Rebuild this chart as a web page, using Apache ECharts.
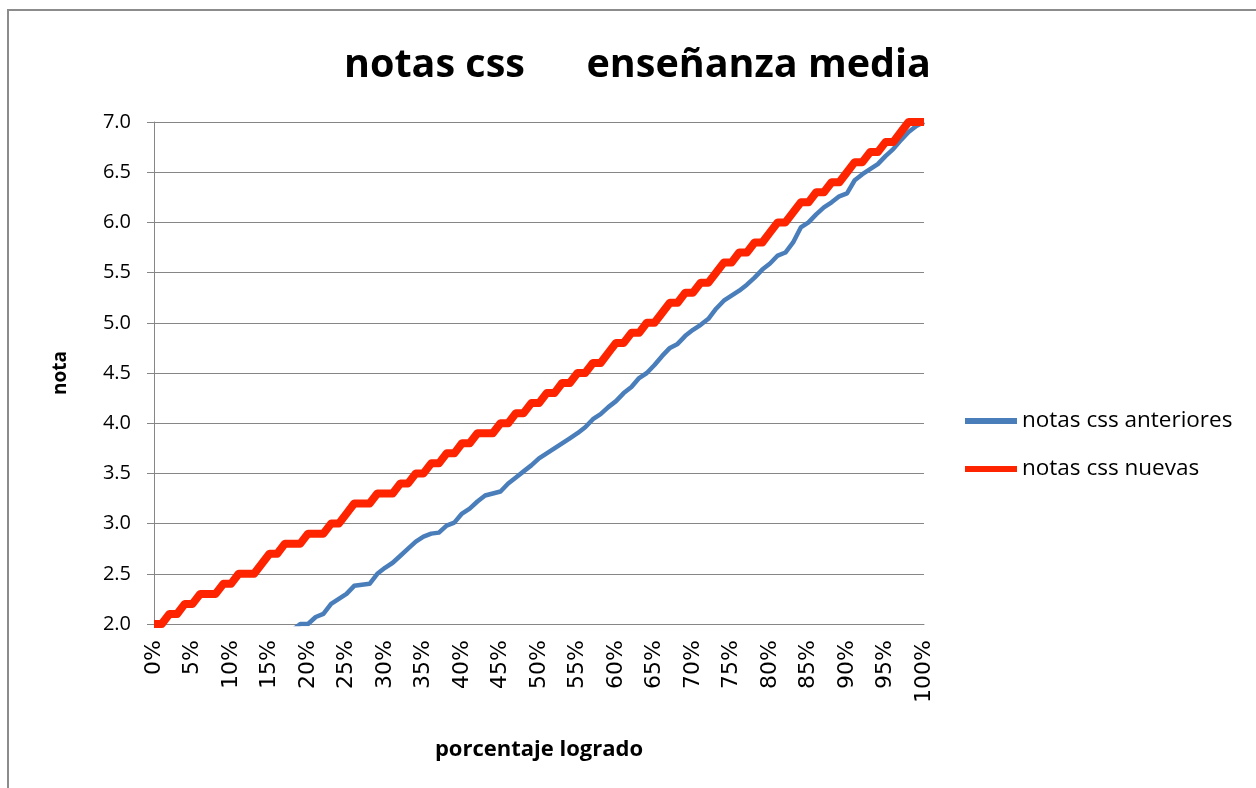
<!DOCTYPE html>
<html>
<head>
<meta charset="utf-8">
<script src="https://cdn.jsdelivr.net/npm/echarts@6/dist/echarts.min.js"></script>
<style>
html,body{margin:0;padding:0;background:#fff;}
#chart{width:1256px;height:788px;}
</style>
</head>
<body>
<div id="chart"></div>
<script>
const titleText = 'notas css      enseñanza media';
const yAxisName = 'nota';
const xAxisName = 'porcentaje logrado';
const seriesNames = ['notas css anteriores', 'notas css nuevas'];

// categories 0% .. 100% in 1% steps
const categories = Array.from({length: 101}, (_, i) => i + '%');

const notasAnteriores = [
  null,null,null,null,null,null,null,null,null,null,
  null,null,null,null,null,null,null,null,
  1.94,2.0,2.0,2.07,2.1,2.2,2.25,2.3,2.38,2.39,
  2.4,2.5,2.56,2.61,2.68,2.75,2.82,2.87,2.9,2.91,
  2.98,3.01,3.1,3.15,3.22,3.28,3.3,3.32,3.4,3.46,
  3.52,3.58,3.65,3.7,3.75,3.8,3.85,3.9,3.96,4.04,
  4.09,4.16,4.22,4.3,4.36,4.45,4.5,4.58,4.67,4.75,
  4.79,4.87,4.93,4.98,5.04,5.14,5.22,5.27,5.32,5.38,
  5.45,5.53,5.59,5.67,5.7,5.8,5.95,6.0,6.08,6.15,
  6.2,6.26,6.29,6.42,6.48,6.53,6.58,6.66,6.73,6.82,
  6.9,6.96,7.0
];

const notasNuevas = [
  2.0,2.0,2.1,2.1,2.2,2.2,2.3,2.3,2.3,2.4,
  2.4,2.5,2.5,2.5,2.6,2.7,2.7,2.8,2.8,2.8,
  2.9,2.9,2.9,3.0,3.0,3.1,3.2,3.2,3.2,3.3,
  3.3,3.3,3.4,3.4,3.5,3.5,3.6,3.6,3.7,3.7,
  3.8,3.8,3.9,3.9,3.9,4.0,4.0,4.1,4.1,4.2,
  4.2,4.3,4.3,4.4,4.4,4.5,4.5,4.6,4.6,4.7,
  4.8,4.8,4.9,4.9,5.0,5.0,5.1,5.2,5.2,5.3,
  5.3,5.4,5.4,5.5,5.6,5.6,5.7,5.7,5.8,5.8,
  5.9,6.0,6.0,6.1,6.2,6.2,6.3,6.3,6.4,6.4,
  6.5,6.6,6.6,6.7,6.7,6.8,6.8,6.9,7.0,7.0,
  7.0
];

const yMin = 2.0, yMax = 7.0, yStep = 0.5;

const chart = echarts.init(document.getElementById('chart'), null, {renderer: 'canvas'});
const FONT = 'Open Sans';
chart.setOption({
  animation: false,
  backgroundColor: '#ffffff',
  graphic: [{
    type: 'rect',
    shape: {x: 8, y: 10, width: 1280, height: 800},
    style: {fill: 'none', stroke: '#8c8c8c', lineWidth: 2},
    silent: true
  }],
  title: {
    text: titleText,
    left: 339,
    top: 41,
    textStyle: {fontFamily: FONT, fontSize: 39.5, fontWeight: 'bold', color: '#000'}
  },
  legend: {
    orient: 'vertical',
    left: 960,
    top: 404,
    itemWidth: 52,
    itemHeight: 6,
    itemGap: 24,
    icon: 'rect',
    textStyle: {fontFamily: FONT, fontSize: 22.5, color: '#000', lineHeight: 24},
    data: [
      {name: seriesNames[0], itemStyle: {color: '#4a7ebb'}},
      {name: seriesNames[1], itemStyle: {color: '#ff2400'}}
    ]
  },
  grid: {left: 154, right: 332, top: 122, bottom: 164, containLabel: false},
  xAxis: {
    type: 'category',
    data: categories,
    boundaryGap: false,
    name: xAxisName,
    nameLocation: 'middle',
    nameGap: 115,
    nameTextStyle: {fontFamily: FONT, fontSize: 22, fontWeight: 'bold', color: '#000'},
    axisLine: {lineStyle: {color: '#868686', width: 1}},
    axisTick: {show: false},
    axisLabel: {
      interval: 4,
      rotate: 90,
      margin: 16,
      fontFamily: 'DejaVu Sans',
      fontSize: 22,
      color: '#000'
    },
    splitLine: {show: false}
  },
  yAxis: {
    type: 'value',
    min: yMin,
    max: yMax,
    interval: yStep,
    name: yAxisName,
    nameLocation: 'middle',
    nameRotate: 90,
    nameGap: 84,
    nameTextStyle: {fontFamily: FONT, fontSize: 19, fontWeight: 'bold', color: '#000'},
    axisLine: {show: true, lineStyle: {color: '#868686', width: 1}},
    axisTick: {show: true, length: 7, lineStyle: {color: '#868686'}},
    axisLabel: {
      fontFamily: FONT,
      fontSize: 20,
      color: '#000',
      margin: 23,
      formatter: v => v.toFixed(1)
    },
    splitLine: {show: true, lineStyle: {color: '#868686', width: 1}}
  },
  series: [
    {
      name: seriesNames[0],
      type: 'line',
      data: notasAnteriores,
      showSymbol: false,
      symbol: 'none',
      connectNulls: false,
      clip: true,
      lineStyle: {color: '#4a7ebb', width: 4.5, join: 'round', cap: 'butt'},
      itemStyle: {color: '#4a7ebb'}
    },
    {
      name: seriesNames[1],
      type: 'line',
      data: notasNuevas,
      showSymbol: false,
      symbol: 'none',
      clip: true,
      lineStyle: {color: '#ff2400', width: 8, join: 'round', cap: 'butt'},
      itemStyle: {color: '#ff2400'}
    }
  ]
});
</script>
</body>
</html>
